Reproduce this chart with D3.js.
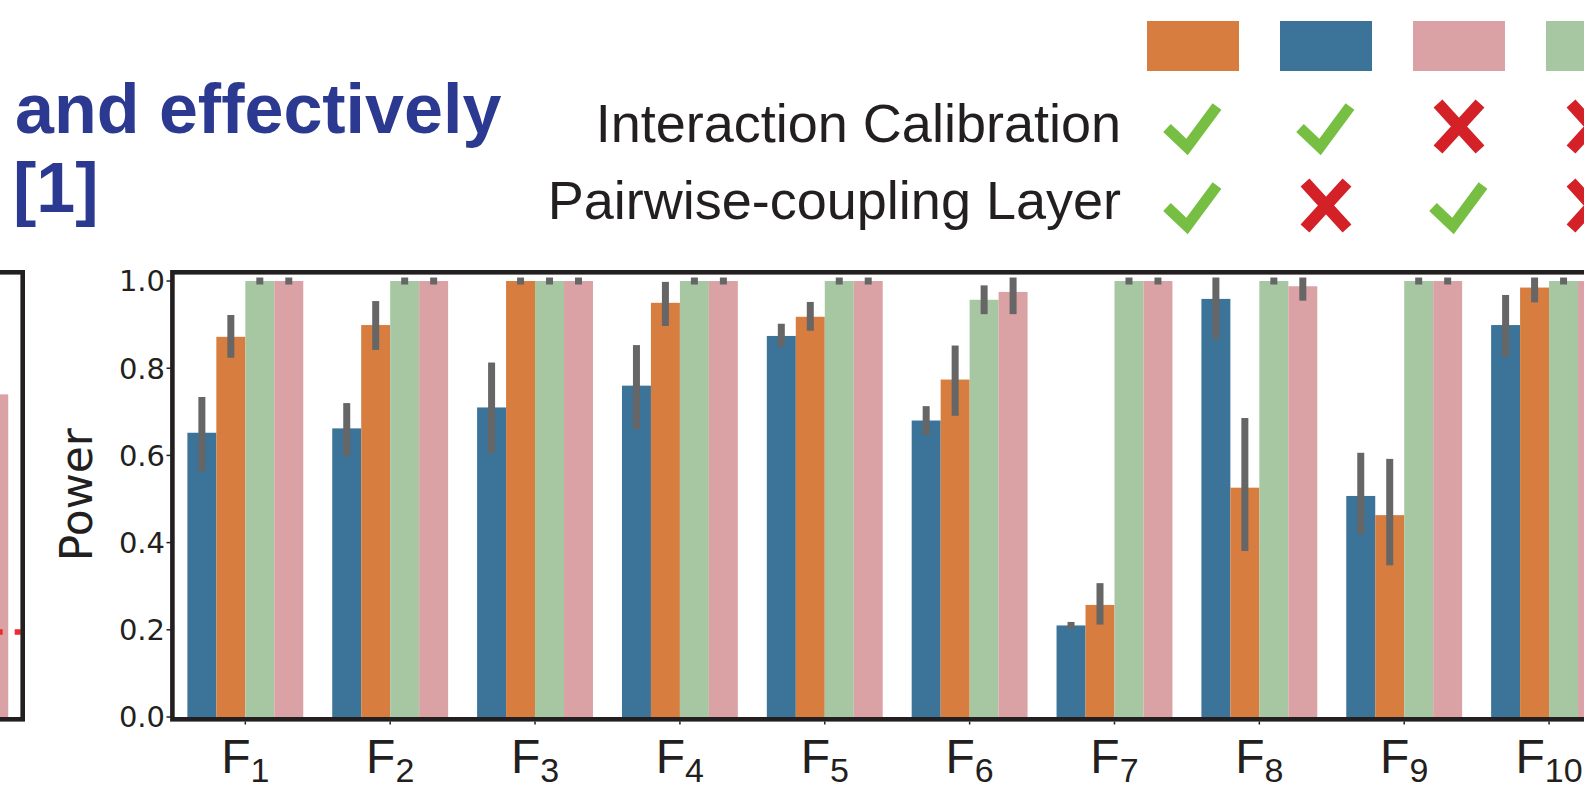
<!DOCTYPE html>
<html>
<head>
<meta charset="utf-8">
<script src="https://cdn.jsdelivr.net/npm/d3@7"></script>
<style>
  body { margin: 0; background: #fff; }
  svg { display: block; }
</style>
</head>
<body>
<div id="chart"></div>
<script>
// ---- data ----
var features = ['F1', 'F2', 'F3', 'F4', 'F5', 'F6', 'F7', 'F8', 'F9', 'F10'];
var seriesNames = ['calibration only', 'calibration + coupling', 'neither', 'coupling only'];
var seriesColors = ['#3b7399', '#d67d3f', '#a7c7a3', '#dba2a6'];

var calibOnly   = [0.652, 0.662, 0.710, 0.760, 0.874, 0.680, 0.210, 0.959, 0.507, 0.899];
var calibOnlyLo = [0.571, 0.607, 0.614, 0.668, 0.857, 0.655, 0.210, 0.875, 0.427, 0.834];
var calibOnlyHi = [0.726, 0.712, 0.805, 0.845, 0.894, 0.705, 0.210, 1.000, 0.598, 0.960];

var both   = [0.872, 0.899, 1.000, 0.950, 0.918, 0.774, 0.257, 0.526, 0.463, 0.985];
var bothLo = [0.832, 0.850, 1.000, 0.905, 0.894, 0.699, 0.220, 0.389, 0.356, 0.959];
var bothHi = [0.914, 0.946, 1.000, 0.990, 0.944, 0.844, 0.299, 0.678, 0.584, 1.000];

var neither   = [1, 1, 1, 1, 1, 0.957, 1, 1, 1, 1];
var neitherLo = [1, 1, 1, 1, 1, 0.932, 1, 1, 1, 1];
var neitherHi = [1, 1, 1, 1, 1, 0.982, 1, 1, 1, 1];

var couplingOnly   = [1, 1, 1, 1, 1, 0.975, 1, 0.988, 1, 1];
var couplingOnlyLo = [1, 1, 1, 1, 1, 0.932, 1, 0.963, 1, 1];
var couplingOnlyHi = [1, 1, 1, 1, 1, 1.000, 1, 1.000, 1, 1];

var yTicks = [0, 0.2, 0.4, 0.6, 0.8, 1.0];

// legend: boxes in this order of series, with the two switches
var legendOrder = [1, 0, 3, 2];
var hasCalibration = [true, true, false, false];
var hasCoupling = [true, false, true, false];
var legendRows = ['Interaction Calibration', 'Pairwise-coupling Layer'];

// neighbouring panel on the left (only its last bar shows)
var leftPanelValue = 0.74;
var leftThreshold = 0.195;

var titleLines = ['and effectively', '[1]'];

// ---- build ----
var values = [calibOnly, both, neither, couplingOnly];
var lows = [calibOnlyLo, bothLo, neitherLo, couplingOnlyLo];
var highs = [calibOnlyHi, bothHi, neitherHi, couplingOnlyHi];

var W = 1584, H = 786;
var dark = '#231f20';

var svg = d3.select('#chart').append('svg')
  .attr('width', W)
  .attr('height', H);

var y = d3.scaleLinear().domain([0, 1.02]).range([717, 272.3]);

var x = d3.scaleBand().domain(features)
  .range([172.9, 1621.5])
  .paddingInner(0.2)
  .paddingOuter(0.1);

var xSub = d3.scaleBand().domain(d3.range(seriesNames.length))
  .range([0, x.bandwidth()]);

var rows = [];
features.forEach(function(f, i) {
  seriesNames.forEach(function(s, j) {
    rows.push({f: f, s: j, v: values[j][i], lo: lows[j][i], hi: highs[j][i]});
  });
});

// title text, top left
var title = svg.append('g')
  .attr('font-family', '"Liberation Sans", Arial, sans-serif')
  .attr('font-weight', 'bold')
  .attr('font-size', 70)
  .attr('fill', '#2b3990');
title.selectAll('text')
  .data(titleLines)
  .enter().append('text')
    .attr('x', function(d, i) { return i === 0 ? 15 : 13; })
    .attr('y', function(d, i) { return 133 + i * 79; })
    .text(function(d) { return d; });

// left panel pieces
var leftX = d3.scaleBand().domain(['last']).range([-122, 22.7])
  .paddingInner(0.2).paddingOuter(0.1);
var leftSub = d3.scaleBand().domain(d3.range(4)).range([0, leftX.bandwidth()]);

svg.append('rect')
  .attr('x', leftX('last') + leftSub(3))
  .attr('y', y(leftPanelValue))
  .attr('width', leftSub.bandwidth())
  .attr('height', y(0) - y(leftPanelValue))
  .attr('fill', seriesColors[3]);

svg.append('line')
  .attr('x1', leftX.range()[1] - 2)
  .attr('x2', leftX.range()[0])
  .attr('y1', y(leftThreshold))
  .attr('y2', y(leftThreshold))
  .attr('stroke', '#ee2a2a')
  .attr('stroke-width', 5.7)
  .attr('stroke-dasharray', '6,12');

svg.append('rect')
  .attr('x', leftX.range()[0])
  .attr('y', y(1.02))
  .attr('width', leftX.range()[1] - leftX.range()[0])
  .attr('height', y(0) + 2.3 - y(1.02))
  .attr('fill', 'none')
  .attr('stroke', dark)
  .attr('stroke-width', 4.6);

// main bars
var plot = svg.append('g');

plot.selectAll('rect.bar')
  .data(rows)
  .enter().append('rect')
    .attr('class', 'bar')
    .attr('x', function(d) { return x(d.f) + xSub(d.s); })
    .attr('y', function(d) { return y(d.v); })
    .attr('width', xSub.bandwidth())
    .attr('height', function(d) { return y(0) - y(d.v); })
    .attr('fill', function(d) { return seriesColors[d.s]; });

plot.selectAll('line.err')
  .data(rows)
  .enter().append('line')
    .attr('class', 'err')
    .attr('x1', function(d) { return x(d.f) + xSub(d.s) + xSub.bandwidth() / 2; })
    .attr('x2', function(d) { return x(d.f) + xSub(d.s) + xSub.bandwidth() / 2; })
    .attr('y1', function(d) { return y(d.lo); })
    .attr('y2', function(d) { return y(d.hi); })
    .attr('stroke', '#666666')
    .attr('stroke-width', 7)
    .attr('stroke-linecap', 'square');

// frame
svg.append('rect')
  .attr('x', x.range()[0] - 0.5)
  .attr('y', y(1.02))
  .attr('width', x.range()[1] - x.range()[0])
  .attr('height', y(0) + 2.3 - y(1.02))
  .attr('fill', 'none')
  .attr('stroke', dark)
  .attr('stroke-width', 4.6);

// y axis
var yAxis = svg.append('g')
  .attr('font-family', '"DejaVu Sans", sans-serif')
  .attr('font-size', 29)
  .attr('fill', dark);

yAxis.selectAll('line')
  .data(yTicks)
  .enter().append('line')
    .attr('x1', 166.5)
    .attr('x2', 171)
    .attr('y1', function(d) { return y(d); })
    .attr('y2', function(d) { return y(d); })
    .attr('stroke', dark)
    .attr('stroke-width', 1.5);

yAxis.selectAll('text')
  .data(yTicks)
  .enter().append('text')
    .attr('x', 165)
    .attr('y', function(d) { return y(d); })
    .attr('dy', '0.36em')
    .attr('text-anchor', 'end')
    .text(function(d) { return d3.format('.1f')(d); });

svg.append('text')
  .attr('transform', 'translate(92,' + y(0.51) + ') rotate(-90)')
  .attr('text-anchor', 'middle')
  .attr('font-family', '"DejaVu Sans", sans-serif')
  .attr('font-size', 44)
  .attr('fill', dark)
  .text('Power');

// x axis
var xAxis = svg.append('g')
  .attr('font-family', '"Liberation Sans", Arial, sans-serif')
  .attr('fill', dark);

xAxis.selectAll('line')
  .data(features)
  .enter().append('line')
    .attr('x1', function(d) { return x(d) + x.bandwidth() / 2; })
    .attr('x2', function(d) { return x(d) + x.bandwidth() / 2; })
    .attr('y1', y(0) + 4.6)
    .attr('y2', y(0) + 7.5)
    .attr('stroke', dark)
    .attr('stroke-width', 1.5);

var xLabels = xAxis.selectAll('text')
  .data(features)
  .enter().append('text')
    .attr('x', function(d) { return x(d) + x.bandwidth() / 2; })
    .attr('y', 773)
    .attr('text-anchor', 'middle')
    .attr('font-size', 48);
xLabels.append('tspan').text(function(d) { return d.charAt(0); });
xLabels.append('tspan')
  .attr('font-size', 34)
  .attr('dy', 9)
  .text(function(d) { return d.slice(1); });

// legend
var legend = svg.append('g');
var legX = function(i) { return 1147 + i * 133; };

legend.selectAll('rect')
  .data(legendOrder)
  .enter().append('rect')
    .attr('x', function(d, i) { return legX(i); })
    .attr('y', 21)
    .attr('width', 92)
    .attr('height', 50)
    .attr('fill', function(d) { return seriesColors[d]; });

legend.selectAll('text')
  .data(legendRows)
  .enter().append('text')
    .attr('x', 1121)
    .attr('y', function(d, i) { return 141.5 + i * 77; })
    .attr('text-anchor', 'end')
    .attr('font-family', '"Liberation Sans", Arial, sans-serif')
    .attr('font-size', 54)
    .attr('fill', dark)
    .text(function(d) { return d; });

function mark(g, ok) {
  if (ok) {
    g.append('path')
      .attr('d', 'M-26,-1 L-6,18 L24,-22.5')
      .attr('fill', 'none')
      .attr('stroke', '#77bf43')
      .attr('stroke-width', 11)
      .attr('stroke-linejoin', 'miter');
  } else {
    g.append('path')
      .attr('d', 'M-21,-25.5 L21,20.5 M21,-25.5 L-21,20.5')
      .attr('fill', 'none')
      .attr('stroke', '#d42027')
      .attr('stroke-width', 12);
  }
}

[hasCalibration, hasCoupling].forEach(function(flags, r) {
  flags.forEach(function(ok, i) {
    var g = legend.append('g')
      .attr('transform', 'translate(' + (legX(i) + 46) + ',' + (129 + r * 79) + ')');
    mark(g, ok);
  });
});
</script>
</body>
</html>
